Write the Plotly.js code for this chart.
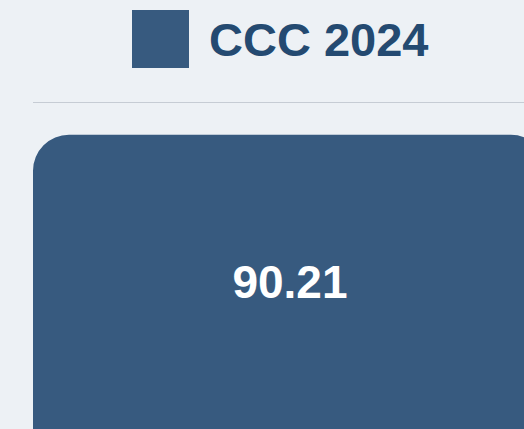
<!DOCTYPE html>
<html>
<head>
<meta charset="utf-8">
<script src="https://cdn.plot.ly/plotly-3.0.1.min.js"></script>
<style>html,body{margin:0;padding:0;background:#edf1f5;}#chart{width:524px;height:429px;}</style>
</head>
<body>
<div id="chart"></div>
<script>
const categories = ["CCC 2024"];
const seriesName = "CCC 2024";
const values = [90.21];
const valueLabels = ["90.21"];

const barColor = "#375a7f";
const textColor = "#244a71";

const trace = {
  type: "bar",
  x: [0],
  y: values,
  width: [1],
  name: seriesName,
  text: valueLabels,
  textposition: "inside",
  insidetextanchor: "middle",
  textfont: {family: "Liberation Sans, Arial, sans-serif", size: 46, color: "#ffffff", weight: "bold"},
  marker: {color: barColor, cornerradius: 36},
  hoverinfo: "none",
  showlegend: false
};

const layout = {
  width: 524,
  height: 429,
  margin: {l: 33, r: 0, t: 80, b: 0},
  paper_bgcolor: "#edf1f5",
  plot_bgcolor: "#edf1f5",
  xaxis: {range: [-0.5, 0.4553], showgrid: false, zeroline: false, showticklabels: false, showline: false, fixedrange: true},
  yaxis: {range: [0, 107], tickvals: [100], showticklabels: false, gridcolor: "#c6ccd4", gridwidth: 1, zeroline: false, showline: false, fixedrange: true},
  annotations: [
    {xref: "paper", yref: "paper", x: (207 - 33) / 491, y: 1 + (80 - 39) / 349, xanchor: "left", yanchor: "middle",
     text: "<b>" + categories[0] + "</b>", showarrow: false,
     font: {family: "Liberation Sans, Arial, sans-serif", size: 47, color: textColor}}
  ],
  // legend swatch as a square shape, paper coordinates
  shapes: [{
    type: "rect", xref: "paper", yref: "paper",
    x0: (132 - 33) / 491, x1: (189 - 33) / 491,
    y0: 1 + (80 - 68) / 349, y1: 1 + (80 - 10) / 349,
    fillcolor: barColor, line: {width: 0}
  }]
};

Plotly.newPlot("chart", [trace], layout, {displayModeBar: false, staticPlot: true});
</script>
</body>
</html>
